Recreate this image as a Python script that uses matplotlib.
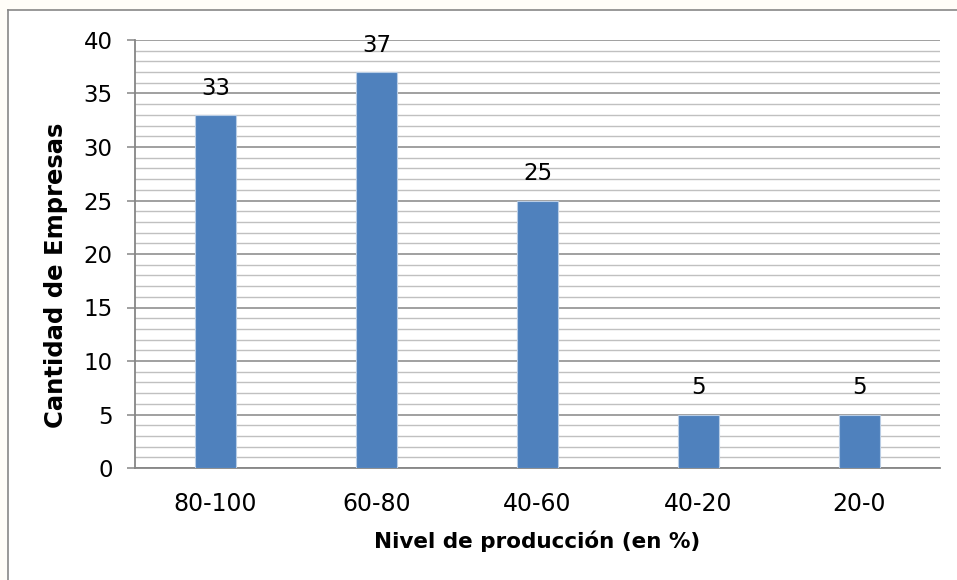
import matplotlib
matplotlib.use("Agg")
import matplotlib.pyplot as plt
from matplotlib.lines import Line2D
from matplotlib.patches import Rectangle
from matplotlib.ticker import MultipleLocator

categories = ["80-100", "60-80", "40-60", "40-20", "20-0"]
empresas = [33, 37, 25, 5, 5]
y_ticks = [0, 5, 10, 15, 20, 25, 30, 35, 40]

BAR = "#4F81BD"
BAR_EDGE = "#B9CDE5"
MAJOR = "#868686"
MINOR = "#C0C0C0"

plt.rcParams["font.family"] = ["DejaVu Sans"]

fig = plt.figure(figsize=(9.57, 5.8), dpi=100)
fig.patch.set_facecolor("#FFFDF8")

# white chart frame with grey left/top border
W, H = 957, 580
fig.patches.append(Rectangle((8 / W, 0), 1.0, 1 - 10 / H, transform=fig.transFigure,
                             facecolor="white", edgecolor="none", zorder=-10))
fig.lines.append(Line2D([8 / W, 8 / W], [0, 1 - 10 / H], transform=fig.transFigure,
                        color="#878787", lw=1.2, zorder=-9))
fig.lines.append(Line2D([8 / W, 1], [1 - 10 / H, 1 - 10 / H], transform=fig.transFigure,
                        color="#878787", lw=1.2, zorder=-9))

ax = fig.add_axes([135 / W, 1 - 468 / H, (940 - 135) / W, (468 - 40) / H])
ax.set_facecolor("white")

x = list(range(len(categories)))
bars = ax.bar(x, empresas, width=0.25, color=BAR, edgecolor=BAR_EDGE, linewidth=0.8, zorder=3)

for xi, v in zip(x, empresas):
    ax.annotate(str(v), (xi, v), xytext=(0, 11), textcoords="offset points",
                ha="center", va="bottom", fontsize=16.5, color="black")

ax.set_xlim(-0.5, len(categories) - 0.5)
ax.set_ylim(0, 40)
ax.set_yticks(y_ticks)
ax.yaxis.set_minor_locator(MultipleLocator(1))
ax.grid(which="major", axis="y", color=MAJOR, lw=1.1, zorder=1)
ax.grid(which="minor", axis="y", color=MINOR, lw=1.0, zorder=1)
ax.set_axisbelow(True)

ax.set_xticks(x)
ax.set_xticklabels(categories)
ax.tick_params(axis="x", length=0, pad=17, labelsize=17)
ax.tick_params(axis="y", which="major", length=6, width=1.1, color=MAJOR, pad=10, labelsize=16.5)
ax.tick_params(axis="y", which="minor", length=0)

for s in ("top", "right"):
    ax.spines[s].set_visible(False)
for s in ("left", "bottom"):
    ax.spines[s].set_color(MAJOR)
    ax.spines[s].set_linewidth(1.3)

ax.set_xlabel("Nivel de producción (en %)", fontsize=15.5, fontweight="bold", labelpad=11)
ax.set_ylabel("Cantidad de Empresas", fontsize=17.5, fontweight="bold")
ax.yaxis.set_label_coords(-0.083, 0.451)

fig.savefig("out.png", dpi=100, facecolor=fig.get_facecolor())
